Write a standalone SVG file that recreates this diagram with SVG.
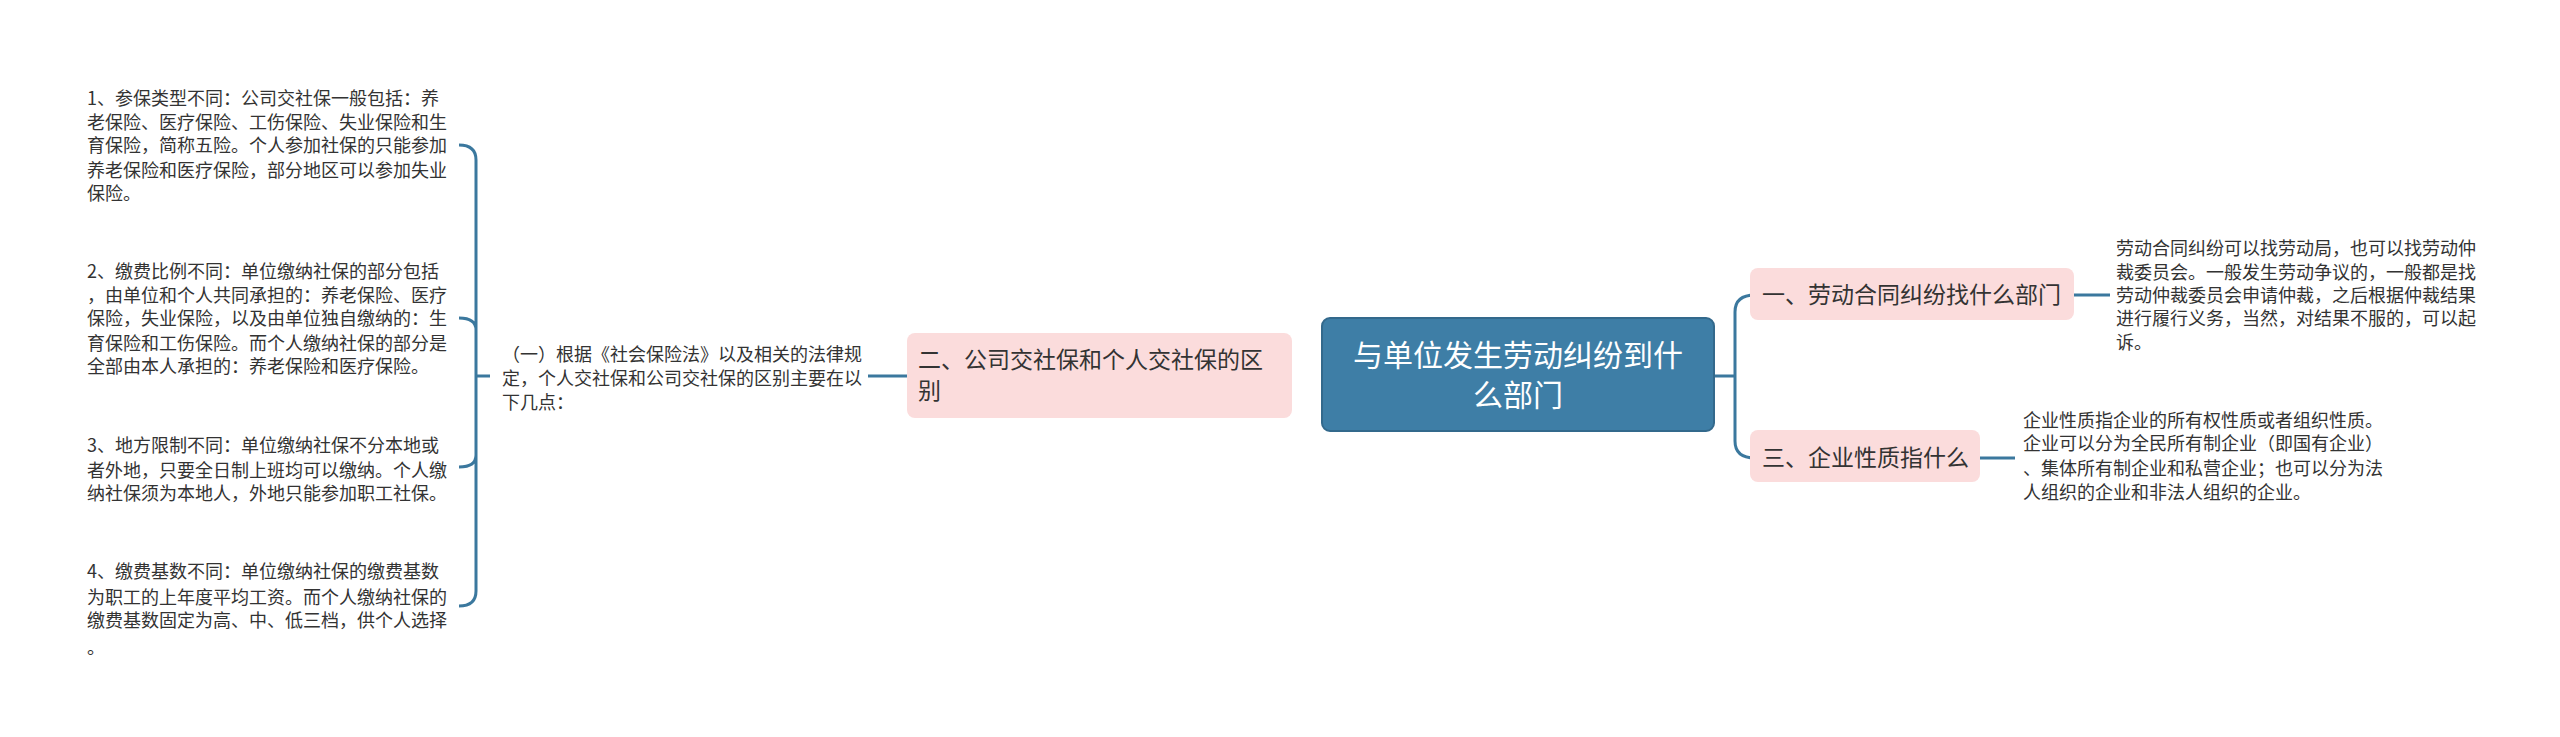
<svg xmlns="http://www.w3.org/2000/svg" width="2560" height="737" viewBox="0 0 2560 737">
<style>
text{font-family:"Noto Sans CJK SC","Liberation Sans",sans-serif;fill:#333}
.s{font-size:18px}
.n{font-size:23px}
.pk{fill:#fbdcdc}
.c{fill:none;stroke:#3b789e;stroke-width:3}
</style>
<rect width="2560" height="737" fill="#fff"/>
<g id="connectors">
<path class="c" d="M459,145 Q476,145 476,160 L476,591 Q476,606 459,606 M459,318 Q476,318 476,330 M459,467 Q476,467 476,455 M476,376 L490,376 M868,376 L907,376"/>
<path class="c" d="M1714,376 L1735,376 M1755,295 Q1735,295 1735,312 L1735,441 Q1735,458 1755,458 M2074,295 L2110,295 M1980,458 L2015,458"/>
</g>
<g id="root">
<rect x="1322" y="318" width="392" height="113" rx="8" fill="#3e7ea6" stroke="#33698c" stroke-width="2"/>
<text x="1518" y="366" text-anchor="middle" style="font-size:30px;fill:#fff">与单位发生劳动纠纷到什</text>
<text x="1518" y="406" text-anchor="middle" style="font-size:30px;fill:#fff">么部门</text>
</g>
<g id="n1">
<rect class="pk" x="1750" y="268" width="324" height="52" rx="8"/>
<text class="n" x="1762" y="303">一、劳动合同纠纷找什么部门</text>
</g>
<g id="n3">
<rect class="pk" x="1750" y="430" width="230" height="52" rx="8"/>
<text class="n" x="1762" y="466">三、企业性质指什么</text>
</g>
<g id="n2">
<rect class="pk" x="907" y="333" width="385" height="85" rx="8"/>
<text class="n" x="918" y="368">二、公司交社保和个人交社保的区</text>
<text class="n" x="918" y="399">别</text>
</g>
<g id="t1">
<text class="s" x="2116" y="255">劳动合同纠纷可以找劳动局，也可以找劳动仲</text>
<text class="s" x="2116" y="279">裁委员会。一般发生劳动争议的，一般都是找</text>
<text class="s" x="2116" y="302">劳动仲裁委员会申请仲裁，之后根据仲裁结果</text>
<text class="s" x="2116" y="325">进行履行义务，当然，对结果不服的，可以起</text>
<text class="s" x="2116" y="349">诉。</text>
</g>
<g id="t3">
<text class="s" x="2023" y="427">企业性质指企业的所有权性质或者组织性质。</text>
<text class="s" x="2023" y="450">企业可以分为全民所有制企业（即国有企业）</text>
<text class="s" x="2023" y="475">、集体所有制企业和私营企业；也可以分为法</text>
<text class="s" x="2023" y="499">人组织的企业和非法人组织的企业。</text>
</g>
<g id="t0">
<text class="s" x="502" y="361">（一）根据《社会保险法》以及相关的法律规</text>
<text class="s" x="502" y="385">定，个人交社保和公司交社保的区别主要在以</text>
<text class="s" x="502" y="409">下几点：</text>
</g>
<g id="l1">
<text class="s" x="87" y="105">1、参保类型不同：公司交社保一般包括：养</text>
<text class="s" x="87" y="129">老保险、医疗保险、工伤保险、失业保险和生</text>
<text class="s" x="87" y="152">育保险，简称五险。个人参加社保的只能参加</text>
<text class="s" x="87" y="177">养老保险和医疗保险，部分地区可以参加失业</text>
<text class="s" x="87" y="200">保险。</text>
</g>
<g id="l2">
<text class="s" x="87" y="278">2、缴费比例不同：单位缴纳社保的部分包括</text>
<text class="s" x="87" y="302">，由单位和个人共同承担的：养老保险、医疗</text>
<text class="s" x="87" y="325">保险，失业保险，以及由单位独自缴纳的：生</text>
<text class="s" x="87" y="350">育保险和工伤保险。而个人缴纳社保的部分是</text>
<text class="s" x="87" y="373">全部由本人承担的：养老保险和医疗保险。</text>
</g>
<g id="l3">
<text class="s" x="87" y="452">3、地方限制不同：单位缴纳社保不分本地或</text>
<text class="s" x="87" y="477">者外地，只要全日制上班均可以缴纳。个人缴</text>
<text class="s" x="87" y="500">纳社保须为本地人，外地只能参加职工社保。</text>
</g>
<g id="l4">
<text class="s" x="87" y="578">4、缴费基数不同：单位缴纳社保的缴费基数</text>
<text class="s" x="87" y="604">为职工的上年度平均工资。而个人缴纳社保的</text>
<text class="s" x="87" y="627">缴费基数固定为高、中、低三档，供个人选择</text>
<text class="s" x="87" y="654">。</text>
</g>
</svg>
